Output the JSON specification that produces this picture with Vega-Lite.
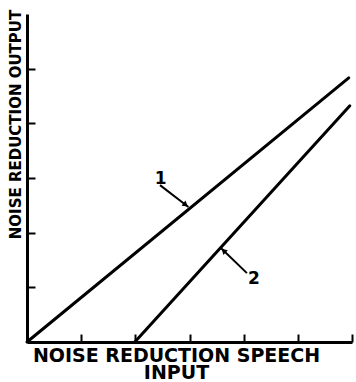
{
  "$schema": "https://vega.github.io/schema/vega-lite/v6.json",
  "width": 325,
  "height": 328,
  "autosize": "none",
  "padding": {"left": 27, "top": 14, "right": 4, "bottom": 40},
  "background": "white",
  "config": {"view": {"stroke": null}},
  "datasets": {
    "curves": [
      {"curve": "1", "x": 0, "y": 0},
      {"curve": "1", "x": 5.94, "y": 4.83},
      {"curve": "2", "x": 1.99, "y": 0},
      {"curve": "2", "x": 5.96, "y": 4.32}
    ],
    "pointers": [
      {"label": "1", "x": 2.455, "y": 2.87, "tipX": 2.98, "tipY": 2.47, "headX": 2.93, "headY": 2.51, "angle": 127, "labelX": 2.47, "labelY": 2.98},
      {"label": "2", "x": 4.06, "y": 1.26, "tipX": 3.58, "tipY": 1.72, "headX": 3.63, "headY": 1.67, "angle": 314, "labelX": 4.19, "labelY": 1.15}
    ]
  },
  "layer": [
    {
      "data": {"name": "curves"},
      "mark": {"type": "line", "color": "black", "strokeWidth": 3, "strokeCap": "round"},
      "encoding": {
        "x": {
          "field": "x", "type": "quantitative",
          "scale": {"domain": [0, 6], "nice": false, "zero": false},
          "axis": {
            "values": [1, 2, 3, 4, 5, 6],
            "labels": false, "grid": false,
            "domainColor": "black", "domainWidth": 3,
            "tickColor": "black", "tickWidth": 2, "tickSize": -8,
            "title": ["NOISE REDUCTION SPEECH", "INPUT"],
            "titleFont": "DejaVu Sans", "titleFontWeight": "bold", "titleFontSize": 19,
            "titleColor": "black",
            "titleAlign": "center", "titleBaseline": "top",
            "titleX": 149, "titleY": 4, "titleLineHeight": 17
          }
        },
        "y": {
          "field": "y", "type": "quantitative",
          "scale": {"domain": [0, 6], "nice": false, "zero": false},
          "axis": {
            "values": [1, 2, 3, 4, 5],
            "labels": false, "grid": false,
            "domainColor": "black", "domainWidth": 3,
            "tickColor": "black", "tickWidth": 2, "tickSize": -8,
            "title": "NOISE REDUCTION OUTPUT",
            "titleFont": "DejaVu Sans", "titleFontWeight": "bold", "titleFontSize": 15,
            "titleColor": "black",
            "titleAngle": -90, "titleAlign": "center", "titleBaseline": "middle",
            "titleX": -12, "titleY": 110
          }
        },
        "detail": {"field": "curve"}
      }
    },
    {
      "data": {"name": "pointers"},
      "mark": {"type": "rule", "color": "black", "strokeWidth": 2},
      "encoding": {
        "x": {"field": "x", "type": "quantitative"},
        "y": {"field": "y", "type": "quantitative"},
        "x2": {"field": "tipX"},
        "y2": {"field": "tipY"}
      }
    },
    {
      "data": {"name": "pointers"},
      "mark": {"type": "point", "shape": "triangle-up", "filled": true, "color": "black", "size": 40, "opacity": 1},
      "encoding": {
        "x": {"field": "headX", "type": "quantitative"},
        "y": {"field": "headY", "type": "quantitative"},
        "angle": {"field": "angle", "type": "quantitative", "scale": null}
      }
    },
    {
      "data": {"name": "pointers"},
      "mark": {"type": "text", "font": "DejaVu Sans", "fontWeight": "bold", "fontSize": 17, "color": "black", "align": "center", "baseline": "middle"},
      "encoding": {
        "x": {"field": "labelX", "type": "quantitative"},
        "y": {"field": "labelY", "type": "quantitative"},
        "text": {"field": "label"}
      }
    }
  ]
}
